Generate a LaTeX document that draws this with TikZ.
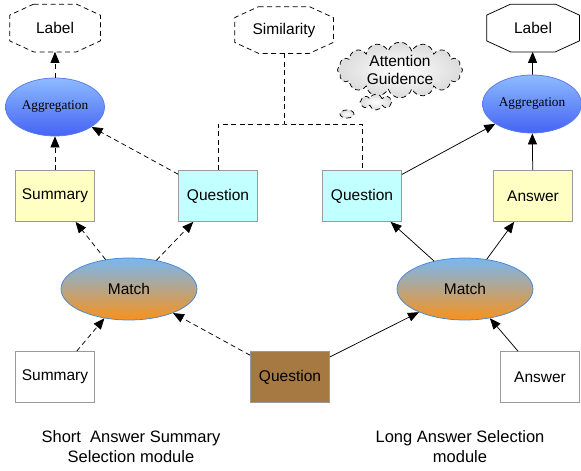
\documentclass[tikz,border=0pt]{standalone}
\usepackage{fontspec}
\setmainfont{Liberation Sans}
\newfontfamily\serifagg{Liberation Serif}
\usetikzlibrary{calc}
\usetikzlibrary{arrows.meta}
\usetikzlibrary{shapes.geometric,shapes.symbols}
\definecolor{boxgray}{HTML}{9A9A9A}
\definecolor{sumyellow}{HTML}{FFFFC4}
\definecolor{quecyan}{HTML}{C2FFFF}
\definecolor{quebrown}{HTML}{A67943}
\definecolor{aggtop}{HTML}{8DBBFF}
\definecolor{aggbot}{HTML}{4563F4}
\definecolor{aggline}{HTML}{5A7BEA}
\definecolor{matchtop}{HTML}{78B7F2}
\definecolor{matchbot}{HTML}{F7921C}
\definecolor{matchline}{HTML}{4A86D6}
% octagon drawn round a named node: #1 style, #2 node name
\newcommand{\octaround}[2]{%
  \draw[#1] ($(#2.north west)+(24,0)$) -- ($(#2.north east)+(-24,0)$)
    -- ($(#2.north east)+(0,11)$) -- ($(#2.south east)+(0,-11)$)
    -- ($(#2.south east)+(-24,0)$) -- ($(#2.south west)+(24,0)$)
    -- ($(#2.south west)+(0,-11)$) -- ($(#2.north west)+(0,11)$) -- cycle;}

\begin{document}
\begin{tikzpicture}[x=1pt, y=-1pt, line width=0.75pt,
  every node/.style={font=\fontsize{15.5}{18}\selectfont},
  box/.style={draw=boxgray, minimum width=79pt, minimum height=51pt, inner sep=0pt},
  agg/.style={ellipse, draw=aggline, top color=aggtop, bottom color=aggbot,
    minimum width=99pt, minimum height=58pt, inner sep=0pt,
    font=\serifagg\fontsize{13.3}{15}\selectfont},
  matchnode/.style={ellipse, draw=matchline, top color=matchtop, bottom color=matchbot,
    minimum width=136pt, minimum height=62pt, inner sep=0pt},
  octa/.style={minimum width=90pt, minimum height=47pt, inner sep=0pt},
  dsh/.style={dash pattern=on 5pt off 3.5pt},
  thought/.style={draw, dsh, inner color=white, outer color=gray!28, inner sep=0pt},
  >={Triangle[length=11pt,width=9pt]}]
\useasboundingbox (0,0) rectangle (581,471);

% short answer summary side
\node[octa] (labelL) at (55,28) {Label};
\octaround{dsh}{labelL}
\node[agg] (aggL) at (55,107) {Aggregation};
\node[box, fill=sumyellow] (sumY) at (55,196) {Summary};
\node[box, fill=quecyan] (queL) at (218,196) {Question};
\node[matchnode] (matchL) at (129,289) {Match};
\node[box] (sumW) at (55,377) {Summary};

% shared question
\node[box, fill=quebrown] (queB) at (290,377) {Question};

% long answer side
\node[octa, minimum width=92pt] (labelR) at (533,28) {Label};
\octaround{}{labelR}
\node[agg] (aggR) at (532,104) {Aggregation};
\node[box, fill=quecyan] (queR) at (362,196) {Question};
\node[box, fill=sumyellow] (ansY) at (533,196) {Answer};
\node[matchnode] (matchR) at (465,289) {Match};
\node[box] (ansW) at (540,377) {Answer};

% similarity and attention
\node[octa, minimum width=98pt, minimum height=46pt] (sim) at (284,30) {Similarity};
\octaround{dsh}{sim}
\coordinate (simJ) at (284,124);
\node[thought, cloud, cloud puffs=16, aspect=2.4, minimum width=125pt, minimum height=52pt,
  align=center] (attn) at (400,70) {Attention\\Guidence};
\node[thought, cloud, cloud puffs=8, aspect=2, minimum width=32pt, minimum height=16pt]
  (bub1) at (376,102) {};
\node[thought, ellipse, minimum width=14pt, minimum height=8pt] (bub2) at (347,114) {};

\node[align=center, font=\fontsize{16.5}{20}\selectfont] (capL) at (131,447)
  {Short~ Answer Summary\\Selection module};
\node[align=center, font=\fontsize{16.5}{20}\selectfont] (capR) at (460,447)
  {Long Answer Selection\\module};

% dashed connectors
\draw[dsh, ->] (aggL) -- (labelL);
\draw[dsh, ->] (sumY) -- (aggL);
\draw[dsh, ->] (queL) -- (aggL);
\draw[dsh, ->] (matchL) -- (sumY);
\draw[dsh, ->] (matchL) -- (queL);
\draw[dsh, ->] (sumW) -- (matchL);
\draw[dsh, ->] (queB) -- (matchL);
\draw[dsh] (sim) -- (simJ);
\draw[dsh] (queL) |- (simJ) -| (queR);

% solid connectors
\draw[->] (aggR) -- (labelR);
\draw[->] (ansY) -- (aggR);
\draw[->] (queR) -- (aggR);
\draw[->] (matchR) -- (queR);
\draw[->] (matchR) -- (ansY);
\draw[->] (queB) -- (matchR);
\draw[->] (ansW) -- (matchR);
\end{tikzpicture}
\end{document}
